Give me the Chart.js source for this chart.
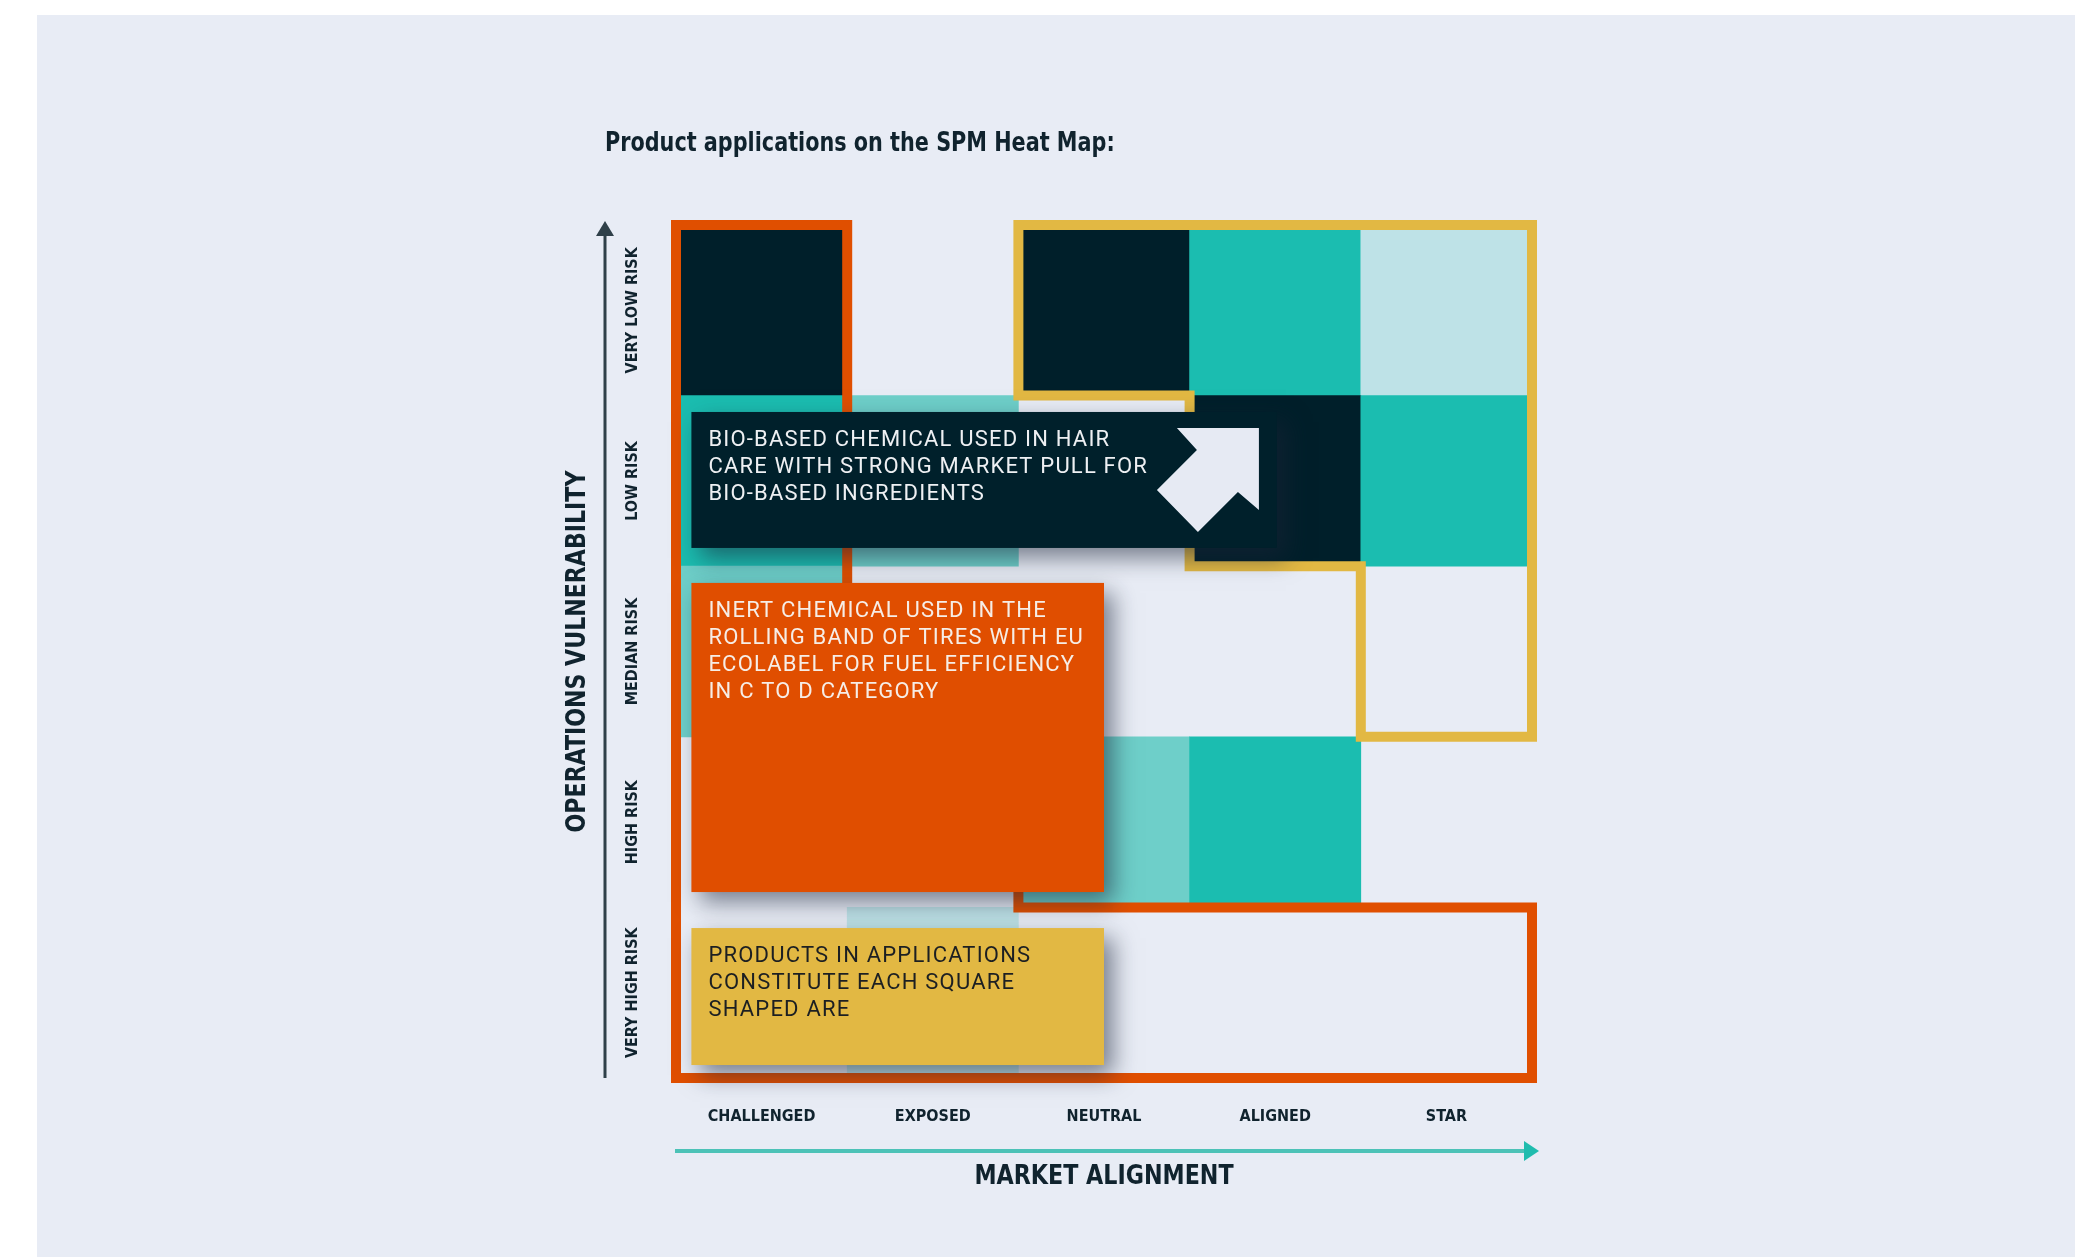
<!DOCTYPE html>
<html>
<head>
<meta charset="utf-8">
<script src="https://cdn.jsdelivr.net/npm/chart.js@4.4.1/dist/chart.umd.min.js"></script>
<style>
    html, body { margin: 0; padding: 0; background: #ffffff; overflow: hidden; }
    #painel { position: absolute; left: 37px; top: 15px; right: 0; bottom: 0; background: #e8ecf5; }
    #heatMap { position: absolute; left: 0; top: 0; }
</style>
</head>
<body>
<div id="painel"></div>
<canvas id="heatMap" width="2075" height="1257"></canvas>
<script>

var categoriasMercado = ["CHALLENGED", "EXPOSED", "NEUTRAL", "ALIGNED", "STAR"];
var categoriasRisco = ["VERY HIGH RISK", "HIGH RISK", "MEDIAN RISK", "LOW RISK", "VERY LOW RISK"];

// intensity of each square, 0 = empty ... 4 = darkest (one array per risk row)
var nivelVeryHighRisk = [0, 1, 0, 0, 0];
var nivelHighRisk = [0, 0, 2, 3, 0];
var nivelMedianRisk = [2, 0, 0, 0, 0];
var nivelLowRisk = [3, 2, 0, 4, 3];
var nivelVeryLowRisk = [4, 0, 4, 3, 1];

var coresNivel = ["rgba(0,0,0,0)", "#bee2e7", "#6ecfc9", "#1bbdb0", "#001f2a"];

// outlined groups of squares, corners in cell units (x: category index, y: risk row)
var regiaoLaranja = [[-0.5, 5], [0.5, 5], [0.5, 2], [1.5, 2], [1.5, 1], [4.5, 1], [4.5, 0], [-0.5, 0]];
var regiaoAmarela = [[1.5, 5], [4.5, 5], [4.5, 2], [3.5, 2], [3.5, 3], [2.5, 3], [2.5, 4], [1.5, 4]];

var textoBioBased = ["BIO-BASED CHEMICAL USED IN HAIR", "CARE WITH STRONG MARKET PULL FOR", "BIO-BASED INGREDIENTS"];
var textoInert = ["INERT CHEMICAL USED IN THE", "ROLLING BAND OF TIRES WITH EU", "ECOLABEL FOR FUEL EFFICIENCY", "IN C TO D CATEGORY"];
var textoProducts = ["PRODUCTS IN APPLICATIONS", "CONSTITUTE EACH SQUARE", "SHAPED ARE"];

var _fonteEstreita = "'DejaVu Sans Condensed', 'Liberation Sans Narrow', 'Roboto', sans-serif";
var _fonteCaixa = "'Roboto', 'Liberation Sans', sans-serif";
var _corTexto = "#10232e";

var _graficoHeatMap;

function montarDatasets() {
    var linhas = [nivelVeryHighRisk, nivelHighRisk, nivelMedianRisk, nivelLowRisk, nivelVeryLowRisk];
    return linhas.map(function (niveis, i) {
        return {
            label: categoriasRisco[i],
            data: niveis.map(function () { return 1; }),
            backgroundColor: niveis.map(function (n) { return coresNivel[n]; }),
            barPercentage: 1,
            categoryPercentage: 1,
            borderWidth: 0,
            stack: "grade"
        };
    });
}

function desenharContorno(ctx, pontos, cor, px, py) {
    ctx.save();
    ctx.beginPath();
    for (var i = 0; i < pontos.length; i++) {
        var p = pontos[i];
        if (i == 0) ctx.moveTo(px(p[0]), py(p[1]));
        else ctx.lineTo(px(p[0]), py(p[1]));
    }
    ctx.closePath();
    ctx.lineWidth = 10;
    ctx.lineJoin = "miter";
    ctx.strokeStyle = cor;
    ctx.stroke();
    ctx.restore();
}

function desenharCaixa(ctx, caixa, px, py) {
    var x0 = px(caixa.x0), x1 = px(caixa.x1), y0 = py(caixa.yTopo), y1 = py(caixa.yBase);
    ctx.save();
    ctx.shadowColor = "rgba(25, 35, 55, 0.55)";
    ctx.shadowBlur = 22;
    ctx.shadowOffsetX = 9;
    ctx.shadowOffsetY = 10;
    ctx.fillStyle = caixa.cor;
    ctx.fillRect(x0, y0, x1 - x0, y1 - y0);
    ctx.restore();

    ctx.save();
    ctx.fillStyle = caixa.corTexto;
    ctx.font = "400 22px " + _fonteCaixa;
    ctx.letterSpacing = "1.2px";
    ctx.textAlign = "left";
    ctx.textBaseline = "alphabetic";
    for (var i = 0; i < caixa.linhas.length; i++) {
        ctx.fillText(caixa.linhas[i], x0 + 17, y0 + 34 + i * 27);
    }
    ctx.restore();
    return { x0: x0, x1: x1, y0: y0, y1: y1 };
}

function desenharSeta(ctx, caixa) {
    // white arrow in the right part of the dark box
    var r = caixa.x1, t = caixa.y0;
    var pts = [[-100, 16], [-18, 16], [-18, 98], [-39, 80], [-79, 120], [-120, 78], [-80, 38]];
    ctx.save();
    ctx.beginPath();
    for (var i = 0; i < pts.length; i++) {
        if (i == 0) ctx.moveTo(r + pts[i][0], t + pts[i][1]);
        else ctx.lineTo(r + pts[i][0], t + pts[i][1]);
    }
    ctx.closePath();
    ctx.fillStyle = "#e6eaf3";
    ctx.fill();
    ctx.restore();
}

function textoEstreito(ctx, texto, x, y, escala) {
    // condensed look: squeeze the text horizontally around its anchor
    ctx.save();
    ctx.translate(x, y);
    ctx.scale(escala, 1);
    ctx.fillText(texto, 0, 0);
    ctx.restore();
}

var pluginDecoracao = {
    id: "decoracao",
    afterDatasetsDraw: function (chart) {
        var ctx = chart.ctx;
        var escalaX = chart.scales.x, escalaY = chart.scales.y;
        var px = function (v) { return escalaX.getPixelForValue(v); };
        var py = function (v) { return escalaY.getPixelForValue(v); };

        desenharContorno(ctx, regiaoAmarela, "#e2b843", px, py);
        desenharContorno(ctx, regiaoLaranja, "#e04f00", px, py);

        var caixaBio = desenharCaixa(ctx, { x0: -0.41, x1: 3.01, yTopo: 3.904, yBase: 3.107, cor: "#00202b", corTexto: "#eef0f3", linhas: textoBioBased }, px, py);
        desenharSeta(ctx, caixaBio);
        desenharCaixa(ctx, { x0: -0.41, x1: 2.0, yTopo: 2.902, yBase: 1.09, cor: "#e04e00", corTexto: "#f6ede6", linhas: textoInert }, px, py);
        desenharCaixa(ctx, { x0: -0.41, x1: 2.0, yTopo: 0.879, yBase: 0.076, cor: "#e2b843", corTexto: "#1c1f22", linhas: textoProducts }, px, py);

        var area = chart.chartArea;

        // title
        ctx.save();
        ctx.fillStyle = _corTexto;
        ctx.font = "bold 27px " + _fonteEstreita;
        ctx.textAlign = "left";
        ctx.textBaseline = "alphabetic";
        textoEstreito(ctx, "Product applications on the SPM Heat Map:", 605, 151, 0.855);
        ctx.restore();

        // vertical axis arrow
        ctx.save();
        ctx.strokeStyle = "#2f4049";
        ctx.fillStyle = "#2f4049";
        ctx.lineWidth = 3;
        ctx.beginPath();
        ctx.moveTo(605, area.bottom);
        ctx.lineTo(605, area.top + 6);
        ctx.stroke();
        ctx.beginPath();
        ctx.moveTo(605, area.top - 4);
        ctx.lineTo(596, area.top + 11);
        ctx.lineTo(614, area.top + 11);
        ctx.closePath();
        ctx.fill();
        ctx.restore();

        // risk labels
        ctx.save();
        ctx.fillStyle = _corTexto;
        ctx.font = "bold 16px " + _fonteEstreita;
        ctx.textAlign = "center";
        ctx.textBaseline = "middle";
        for (var i = 0; i < categoriasRisco.length; i++) {
            ctx.save();
            ctx.translate(633, py(i + 0.5));
            ctx.rotate(-Math.PI / 2);
            ctx.fillText(categoriasRisco[i], 0, 0);
            ctx.restore();
        }
        ctx.font = "bold 26px " + _fonteEstreita;
        ctx.translate(578, (area.top + area.bottom) / 2);
        ctx.rotate(-Math.PI / 2);
        textoEstreito(ctx, "OPERATIONS VULNERABILITY", 0, 0, 0.945);
        ctx.restore();

        // horizontal axis arrow
        ctx.save();
        ctx.strokeStyle = "#4cc2b7";
        ctx.fillStyle = "#1fbcae";
        ctx.lineWidth = 4;
        ctx.beginPath();
        ctx.moveTo(area.left - 1, 1151);
        ctx.lineTo(area.right - 4, 1151);
        ctx.stroke();
        ctx.beginPath();
        ctx.moveTo(area.right + 7, 1151);
        ctx.lineTo(area.right - 8, 1141);
        ctx.lineTo(area.right - 8, 1161);
        ctx.closePath();
        ctx.fill();
        ctx.fillStyle = _corTexto;
        ctx.font = "bold 26px " + _fonteEstreita;
        ctx.textAlign = "center";
        ctx.textBaseline = "middle";
        textoEstreito(ctx, "MARKET ALIGNMENT", (area.left + area.right) / 2, 1177, 0.95);
        ctx.restore();
    }
};

function carregarGrafico() {
    var ctx = document.getElementById("heatMap").getContext("2d");
    _graficoHeatMap = new Chart(ctx, {
        type: "bar",
        data: {
            labels: categoriasMercado,
            datasets: montarDatasets()
        },
        options: {
            responsive: false,
            animation: false,
            devicePixelRatio: 1,
            layout: { padding: { left: 676, right: 543, top: 225, bottom: 119 } },
            plugins: {
                legend: { display: false },
                tooltip: { enabled: false },
                title: { display: false }
            },
            scales: {
                x: {
                    type: "category",
                    stacked: true,
                    grid: { display: false, drawTicks: false },
                    border: { display: false },
                    ticks: {
                        padding: 29,
                        color: _corTexto,
                        font: { family: _fonteEstreita, size: 16, weight: "bold" }
                    },
                    afterFit: function (escala) { escala.height = 60; }
                },
                y: {
                    type: "linear",
                    stacked: true,
                    min: 0,
                    max: 5,
                    display: false
                }
            }
        },
        plugins: [pluginDecoracao]
    });
}

carregarGrafico();
</script>
</body>
</html>
